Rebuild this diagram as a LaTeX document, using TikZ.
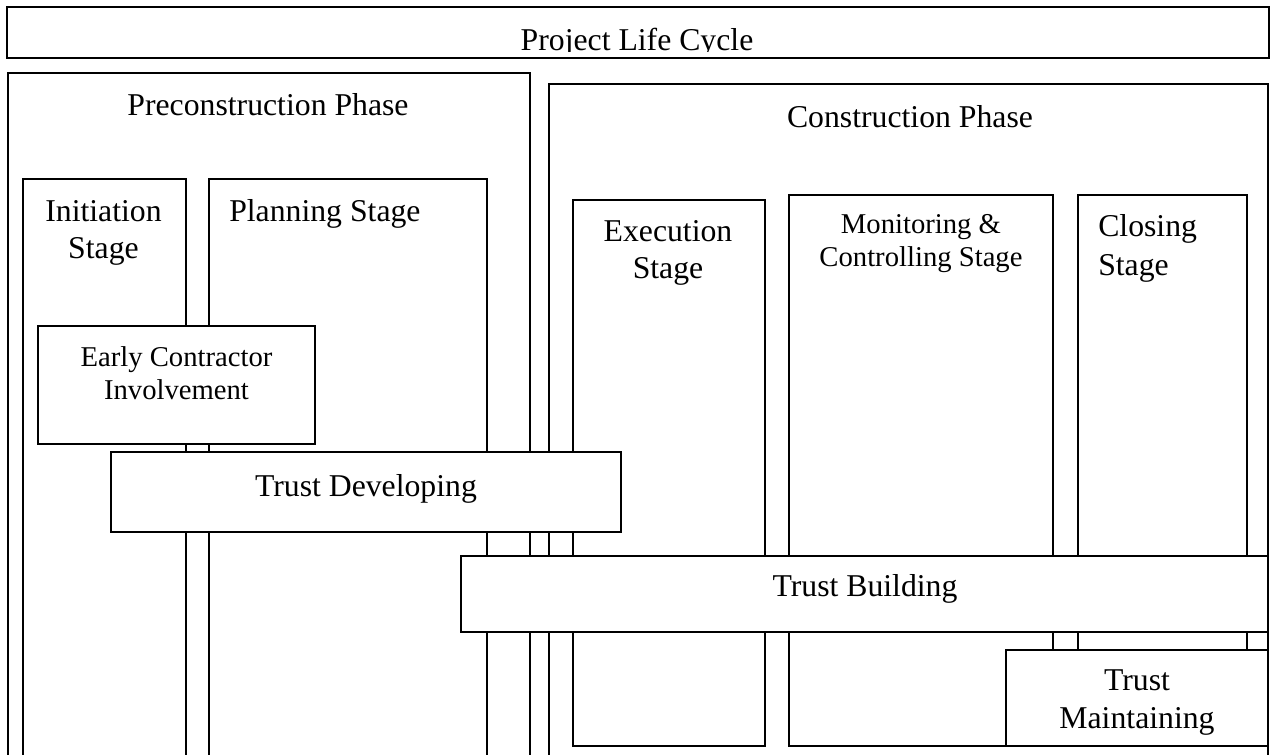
\documentclass[tikz,border=0pt]{standalone}
\usepackage{fontspec}
\setmainfont{Liberation Serif}
\newcommand{\bigtxt}{\fontsize{23.8}{28}\selectfont}
\newcommand{\smalltxt}{\fontsize{21.5}{26}\selectfont}
\tikzset{
  boxed/.style={draw=black, fill=white, line width=1.1pt},
  lbl/.style={inner sep=0pt, anchor=base, font=\bigtxt},
  lblw/.style={inner sep=0pt, anchor=base west, font=\bigtxt},
  slbl/.style={inner sep=0pt, anchor=base, font=\smalltxt}
}
\begin{document}
\begin{tikzpicture}[x=0.75pt, y=-0.75pt]
\useasboundingbox (0,0) rectangle (1272,755);
% Project life cycle
\draw[boxed] (7,7) rectangle (1269,58);
\begin{scope}
  \clip (0,0) rectangle (1272,51.4);
  \node[lbl] (plc) at (637,50.6) {Project Life Cycle};
\end{scope}
% phases
\draw[boxed] (8,73) rectangle (530,770);
\node[lbl] (pre) at (268,116) {Preconstruction Phase};
\draw[boxed] (549,84) rectangle (1268,770);
\node[lbl] (con) at (910,128) {Construction Phase};
% stages
\draw[boxed] (23,179) rectangle (186,770);
\node[lbl] (ini1) at (103.5,222) {Initiation};
\node[lbl] (ini2) at (103.5,259) {Stage};
\draw[boxed] (209,179) rectangle (487,770);
\node[lblw] (pla) at (229,222) {Planning Stage};
\draw[boxed] (573,200) rectangle (765,746);
\node[lbl] (exe1) at (668,242) {Execution};
\node[lbl] (exe2) at (668,279) {Stage};
\draw[boxed] (789,195) rectangle (1053,746);
\node[slbl] (mon1) at (921,233.5) {Monitoring \&};
\node[slbl] (mon2) at (921,267) {Controlling Stage};
\draw[boxed] (1078,195) rectangle (1247,746);
\node[lblw] (clo1) at (1098,237) {Closing};
\node[lblw] (clo2) at (1098,276) {Stage};
% overlays
\draw[boxed] (38,326) rectangle (315,444);
\node[slbl] (eci1) at (176.5,367) {Early Contractor};
\node[slbl] (eci2) at (176.5,400) {Involvement};
\draw[boxed] (111,452) rectangle (621,532);
\node[lbl] (tdev) at (366,497) {Trust Developing};
\draw[boxed] (461,556) rectangle (1268,632);
\node[lbl] (tbui) at (865,597) {Trust Building};
\draw[boxed] (1006,650) rectangle (1268,746);
\node[lbl] (tmai1) at (1137,690) {Trust};
\node[lbl] (tmai2) at (1137,728) {Maintaining};
\end{tikzpicture}
\end{document}
